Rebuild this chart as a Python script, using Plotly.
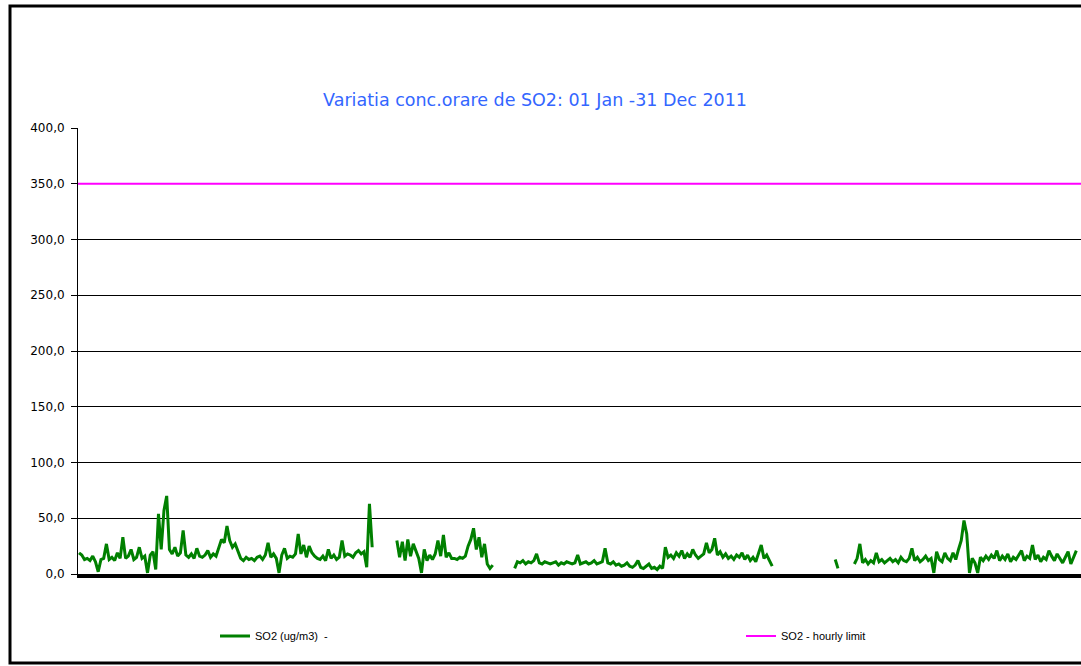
import pandas as pd
import plotly.graph_objects as go

# Daily SO2 concentrations (ug/m3), one array per month (None = no data)
so2_jan = [19, 17, 13, 14, 12, 16, 11, 2, 13, 14, 27, 13, 15, 12, 19, 14, 33, 14, 16, 22, 13, 15, 24, 14, 16, 1, 17, 20, 4, 54, 22]
so2_feb = [57, 70, 22, 18, 24, 16, 19, 39, 17, 15, 18, 14, 23, 16, 15, 17, 21, 15, 18, 16, 24, 31, 28, 43, 30, 24, 27, 20]
so2_mar = [14, 12, 15, 13, 14, 12, 15, 16, 13, 17, 28, 15, 18, 14, 1, 17, 23, 14, 16, 15, 18, 36, 18, 26, 15, 25, 19, 16, 14, 13, 16]
so2_apr = [12, 22, 14, 17, 13, 15, 30, 16, 18, 17, 15, 19, 21, 18, 20, 6, 63, 24,
           None, None, None, None, None, None, None, None, 30, 15, 29, 12]
so2_may = [31, 16, 27, 20, 14, 1, 22, 12, 17, 13, 18, 30, 16, 35, 15, 19, 14, 14, 13, 15, 14, 16, 25, 31, 41, 22, 33, 15, 27, 9, 5]
so2_jun = [8, None, None, None, None, None, None, None,
           5, 11, 10, 12, 9, 11, 10, 12, 18, 10, 9, 11, 10, 9, 10, 11, 8, 10, 9, 11, 10, 9]
so2_jul = [10, 17, 9, 10, 11, 9, 10, 12, 9, 10, 11, 23, 10, 9, 11, 8, 9, 7, 8, 10, 7, 6, 8, 12, 6, 5, 7, 9, 5, 6, 4]
so2_aug = [7, 5, 24, 15, 17, 14, 19, 16, 21, 14, 18, 15, 22, 17, 14, 16, 18, 28, 19, 22, 32, 17, 20, 15, 18, 14, 16, 13, 17, 15, 19]
so2_sep = [13, 17, 12, 15, 11, 18, 26, 14, 17, 12, 7,
           None, None, None, None, None, None, None, None, None, None,
           None, None, None, None, None, None, None, None, None]
so2_oct = [None, None, None, 13, 5, None, None, None, None, None,
           9, 14, 27, 10, 13, 9, 12, 10, 19, 11, 13, 10, 12, 14, 11, 13, 10, 15, 12, 11, 14]
so2_nov = [23, 12, 15, 11, 13, 16, 12, 14, 1, 20, 13, 11, 19, 14, 12, 19, 13, 22, 30, 48, 36, 1, 14, 10, 1, 15, 12, 16, 13, 17]
so2_dec = [14, 21, 12, 16, 13, 18, 11, 15, 13, 17, 21, 12, 16, 14, 26, 13, 17, 11, 15, 13, 21, 16, 12, 18, 14, 10, 15, 20, 9, 16, 21]

hourly_limit = [350, 350]
y_ticks = [0, 50, 100, 150, 200, 250, 300, 350, 400]

so2 = (so2_jan + so2_feb + so2_mar + so2_apr + so2_may + so2_jun +
       so2_jul + so2_aug + so2_sep + so2_oct + so2_nov + so2_dec)
dates = pd.date_range("2011-01-01", periods=len(so2), freq="D")
limit_dates = ["2010-12-31 15:00", "2012-01-01 17:00"]

fig = go.Figure()
fig.add_trace(go.Scatter(
    x=dates, y=so2, mode="lines", name="SO2 (ug/m3)  -",
    line=dict(color="#008000", width=3), connectgaps=False, legend="legend"))
fig.add_trace(go.Scatter(
    x=limit_dates, y=hourly_limit, mode="lines", name="SO2 - hourly limit",
    line=dict(color="#FF00FF", width=2), legend="legend2"))

W, H = 1081, 666
L, T, B = 78, 128, 92
pw, ph = W - L, H - T - B

def px(x):
    return (x - L) / pw

def py(y):
    return (H - B - y) / ph

fig.update_layout(
    width=W, height=H,
    margin=dict(l=L, r=0, t=T, b=B),
    paper_bgcolor="white", plot_bgcolor="white",
    separators=",.",
    showlegend=True,
    title=dict(text="Variatia conc.orare de SO2: 01 Jan -31 Dec 2011",
               x=535 / W, xanchor="center", xref="container",
               y=1 - 100 / H, yanchor="middle", yref="container",
               font=dict(family="DejaVu Sans", size=17.5, color="#3366FF")),
    xaxis=dict(range=limit_dates, showticklabels=False, ticks="",
               showgrid=False, zeroline=False,
               showline=True, linecolor="black", linewidth=4),
    yaxis=dict(range=[0, 400], tickvals=y_ticks, tickformat=".1f",
               showgrid=True, gridcolor="black", gridwidth=1,
               zeroline=False, showline=True, linecolor="black", linewidth=1,
               ticks="outside", ticklen=6, tickcolor="black",
               ticklabelstandoff=4,
               tickfont=dict(family="DejaVu Sans", size=12, color="black")),
    legend=dict(x=px(215), y=py(636), xanchor="left", yanchor="middle",
                orientation="h", bgcolor="rgba(0,0,0,0)",
                font=dict(family="Arial, Liberation Sans", size=11, color="black")),
    legend2=dict(x=px(741), y=py(636), xanchor="left", yanchor="middle",
                 orientation="h", bgcolor="rgba(0,0,0,0)",
                 font=dict(family="Arial, Liberation Sans", size=11, color="black")),
    shapes=[dict(type="rect", xref="paper", yref="paper",
                 x0=px(10), x1=px(1100), y0=py(663), y1=py(6),
                 line=dict(color="black", width=3), fillcolor="rgba(0,0,0,0)")],
)

fig.write_html("out.html", config={"displayModeBar": False},
               post_script="document.body.style.margin='0px';document.body.style.overflow='hidden';")
